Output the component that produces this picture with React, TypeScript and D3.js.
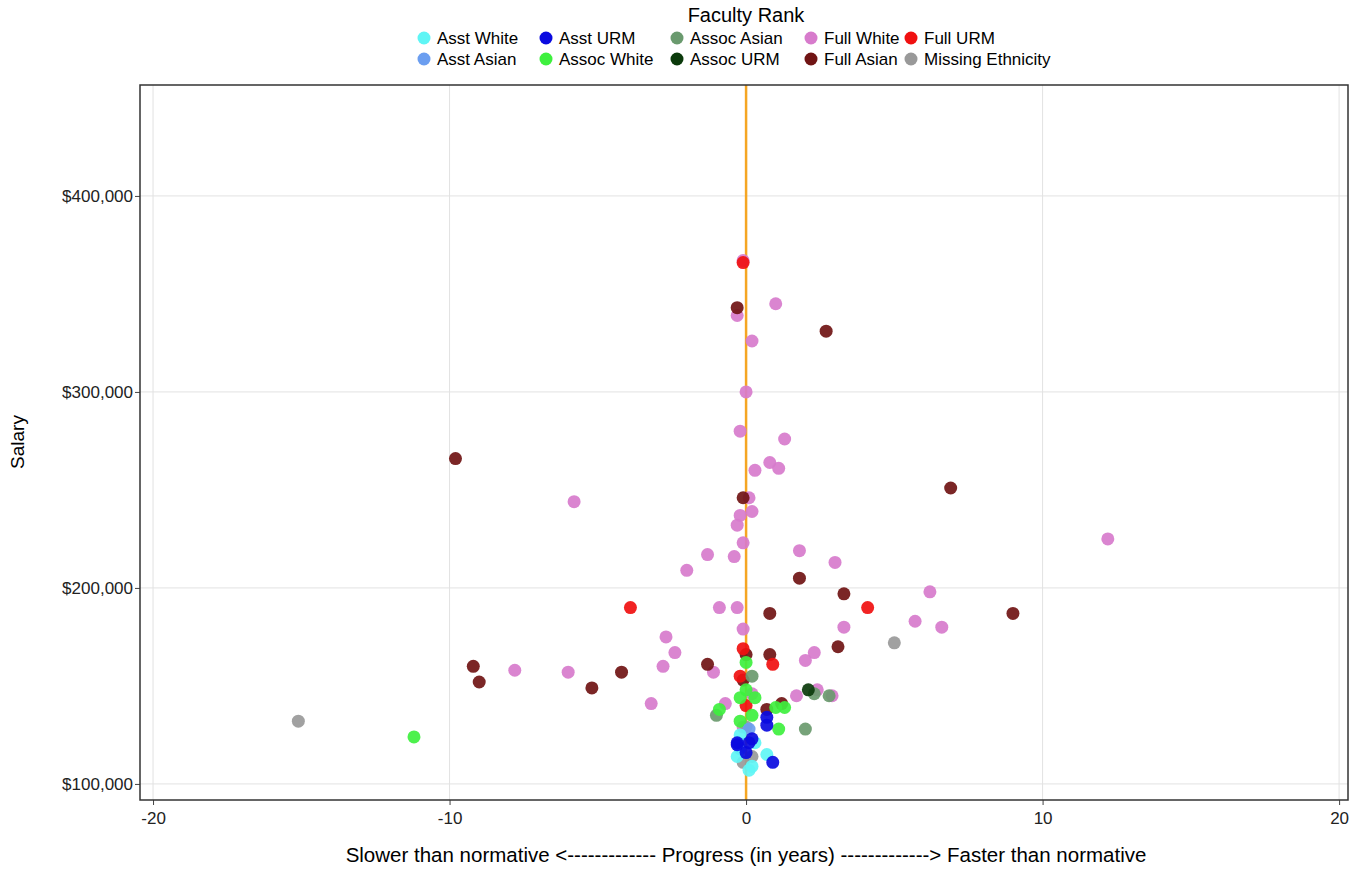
import React, { useEffect, useRef } from 'react';
import * as d3 from 'd3';

type Pt = [number, number];

// progress (years), salary
const asstWhite: Pt[] = [[-0.2,125000],[0.1,107000],[0.7,115000],[0.2,109000],[-0.3,114000],[0.3,121000]];
const asstAsian: Pt[] = [[0.1,128000],[-0.2,118000]];
const asstURM: Pt[] = [[0.7,134000],[0.7,130000],[0.9,111000],[-0.3,120000],[0.1,121000],[0,116000],[0.2,123000],[-0.3,121000]];
const assocWhite: Pt[] = [[-11.2,124000],[0,162000],[-0.9,138000],[-0.2,144000],[0.3,144000],[-0.2,132000],[0.2,135000],[1.3,139000],[1.1,128000],[1.0,139000],[0,148000]];
const assocAsian: Pt[] = [[0.2,155000],[-1.0,135000],[2.0,128000],[2.8,145000],[2.3,146000]];
const assocURM: Pt[] = [[2.1,148000]];
const fullWhite: Pt[] = [[-0.1,367000],[-0.3,339000],[1.0,345000],[0.2,326000],[0,300000],[-0.2,280000],[1.3,276000],[0.8,264000],[1.1,261000],[0.3,260000],[0.1,246000],[-5.8,244000],[0.2,239000],[-0.2,237000],[-0.3,232000],[-0.1,223000],[12.2,225000],[1.8,219000],[-1.3,217000],[-0.4,216000],[3.0,213000],[-2.0,209000],[6.2,198000],[-0.3,190000],[-0.9,190000],[5.7,183000],[6.6,180000],[3.3,180000],[-0.1,179000],[-2.7,175000],[-2.4,167000],[2.3,167000],[-2.8,160000],[2.0,163000],[-7.8,158000],[-6.0,157000],[-1.1,157000],[-3.2,141000],[-0.7,141000],[1.7,145000],[2.9,145000],[2.4,148000],[0.2,146000],[-0.1,129000]];
const fullURM: Pt[] = [[-0.1,366000],[-3.9,190000],[4.1,190000],[-0.1,169000],[0.9,161000],[-0.2,155000],[0,140000]];
const fullAsian: Pt[] = [[-0.3,343000],[2.7,331000],[-9.8,266000],[6.9,251000],[-0.1,246000],[1.8,205000],[3.3,197000],[0.8,187000],[9.0,187000],[-9.2,160000],[-9.0,152000],[-5.2,149000],[-4.2,157000],[-1.3,161000],[3.1,170000],[0.8,166000],[-0.1,153000],[1.2,141000],[0.7,138000],[0,166000]];
const missingEth: Pt[] = [[-15.1,132000],[5.0,172000],[0,129000],[0.2,114000],[-0.1,111000]];

const groups = [
  { name: 'Asst White', color: '#5ff5f5', pts: asstWhite },
  { name: 'Asst Asian', color: '#6b9ef0', pts: asstAsian },
  { name: 'Asst URM', color: '#0a0ae0', pts: asstURM },
  { name: 'Assoc White', color: '#3ef03e', pts: assocWhite },
  { name: 'Assoc Asian', color: '#6a9a6e', pts: assocAsian },
  { name: 'Assoc URM', color: '#0b3a0b', pts: assocURM },
  { name: 'Full White', color: '#d77bcc', pts: fullWhite },
  { name: 'Full Asian', color: '#701414', pts: fullAsian },
  { name: 'Full URM', color: '#f01010', pts: fullURM },
  { name: 'Missing Ethnicity', color: '#999999', pts: missingEth },
];
// legend layout order (row-major, 5 columns)
const legendOrder = ['Asst White','Asst URM','Assoc Asian','Full White','Full URM','Asst Asian','Assoc White','Assoc URM','Full Asian','Missing Ethnicity'];
const legendCols = [424, 546, 677, 811, 911];

const xTicks = [-20, -10, 0, 10, 20];
const yTicks = [100000, 200000, 300000, 400000];
// draw order (back to front)
const drawOrder = ['Full White','Full Asian','Full URM','Missing Ethnicity','Assoc Asian','Assoc URM','Assoc White','Asst Asian','Asst White','Asst URM'];

export default function App() {
  const ref = useRef<SVGSVGElement>(null);
  useEffect(() => {
    const svg = d3.select(ref.current);
    svg.selectAll('*').remove();
    const L = 140, R = 1348, T = 85, B = 800;
    const x = d3.scaleLinear().domain([-20.44, 20.3]).range([L, R]);
    const y = d3.scaleLinear().domain([91800, 456600]).range([B, T]);
    const font = 'Liberation Sans, Arial, sans-serif';

    const grid = svg.append('g');
    xTicks.forEach(t => grid.append('line').attr('x1', x(t)).attr('x2', x(t)).attr('y1', T).attr('y2', B).attr('stroke', '#e2e2e2'));
    yTicks.forEach(t => grid.append('line').attr('x1', L).attr('x2', R).attr('y1', y(t)).attr('y2', y(t)).attr('stroke', '#e2e2e2'));

    const xAxis = svg.append('g').attr('transform', `translate(0,${B})`)
      .call(d3.axisBottom(x).tickValues(xTicks).tickSize(5).tickFormat(d => String(d)));
    const yAxis = svg.append('g').attr('transform', `translate(${L},0)`)
      .call(d3.axisLeft(y).tickValues(yTicks).tickSize(5).tickPadding(2).tickFormat(d => '$' + d3.format(',')(d as number)));
    [xAxis, yAxis].forEach(a => {
      a.select('.domain').remove();
      a.selectAll('text').attr('font-family', font).attr('font-size', 17).attr('fill', '#222');
      a.selectAll('line').attr('stroke', '#444');
    });
    xAxis.selectAll('text').attr('dy', '0.95em');

    svg.append('line').attr('x1', x(0)).attr('x2', x(0)).attr('y1', T).attr('y2', B).attr('stroke', '#f5a623').attr('stroke-width', 2.5);

    drawOrder.forEach(n => {
      const g = groups.find(q => q.name === n)!;
      svg.append('g').selectAll('circle').data(g.pts).join('circle')
        .attr('cx', d => x(d[0])).attr('cy', d => y(d[1])).attr('r', 6.5)
        .attr('fill', g.color).attr('fill-opacity', 0.92);
    });

    svg.append('rect').attr('x', L).attr('y', T).attr('width', R - L).attr('height', B - T)
      .attr('fill', 'none').attr('stroke', '#333').attr('stroke-width', 1.5);

    svg.append('text').attr('x', 746).attr('y', 862).attr('text-anchor', 'middle').attr('font-family', font).attr('font-size', 20.5)
      .text('Slower than normative <------------- Progress (in years) ------------->  Faster than normative');
    svg.append('text').attr('transform', 'translate(24,442) rotate(-90)').attr('text-anchor', 'middle').attr('font-family', font).attr('font-size', 19).text('Salary');

    svg.append('text').attr('x', 746).attr('y', 22).attr('text-anchor', 'middle').attr('font-family', font).attr('font-size', 20).text('Faculty Rank');
    legendOrder.forEach((n, i) => {
      const g = groups.find(q => q.name === n)!;
      const cx = legendCols[i % 5], cy = i < 5 ? 38 : 59;
      svg.append('circle').attr('cx', cx).attr('cy', cy).attr('r', 6.5).attr('fill', g.color);
      svg.append('text').attr('x', cx + 13).attr('y', cy + 6).attr('font-family', font).attr('font-size', 17).text(n);
    });
  }, []);
  return <svg ref={ref} width={1356} height={871} style={{ position: 'absolute', left: 0, top: 0, background: '#fff' }} />;
}
